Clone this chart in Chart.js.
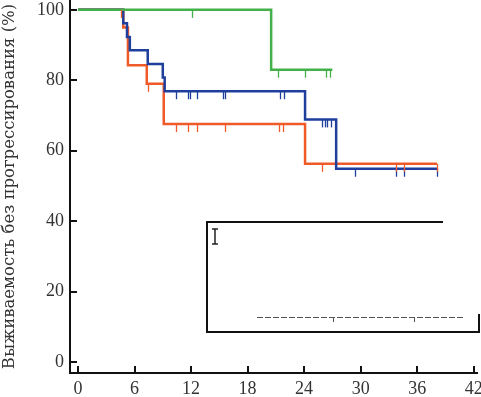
<!DOCTYPE html>
<html><head><meta charset="utf-8">
<script src="https://cdn.jsdelivr.net/npm/chart.js@4/dist/chart.umd.min.js"></script>
<style>html,body{margin:0;padding:0;background:#fff;overflow:hidden}</style>
</head><body>
<canvas id="c" width="481" height="397"></canvas>
<script>
const xTicks = [0, 6, 12, 18, 24, 30, 36, 42];
const yTicks = [0, 20, 40, 60, 80, 100];
const yTitle = 'Выживаемость без прогрессирования (%)';

const greenT = [0, 20.5, 27.0];
const greenS = [100, 83.0, 83.0];
const greenCensT = [12.1, 21.2, 24.1, 26.3, 26.8];
const greenCensS = [100, 83.0, 83.0, 83.0, 83.0];

const blueT = [0, 4.8, 5.2, 5.5, 7.4, 9.0, 9.2, 24.1, 27.4, 38.1];
const blueS = [100, 96.2, 92.3, 88.5, 84.6, 80.8, 76.9, 68.9, 54.9, 54.9];
const blueCensT = [10.4, 11.7, 11.9, 12.6, 15.4, 15.6, 21.4, 21.9, 25.9, 26.2, 26.4, 26.9, 29.4, 33.7, 34.6, 38.1];
const blueCensS = [76.9, 76.9, 76.9, 76.9, 76.9, 76.9, 76.9, 76.9, 68.9, 68.9, 68.9, 68.9, 54.9, 54.9, 54.9, 54.9];

const orangeT = [0, 4.8, 5.3, 7.3, 9.1, 24.1, 38.1];
const orangeS = [100, 95.0, 84.3, 79.0, 67.6, 56.3, 56.3];
const orangeCensT = [4.6, 7.4, 10.4, 11.7, 12.6, 15.6, 21.3, 21.8, 25.9, 33.7, 34.6, 38.1];
const orangeCensS = [100, 79.0, 67.6, 67.6, 67.6, 67.6, 67.6, 67.6, 56.3, 56.3, 56.3, 56.3];

const GREEN = '#43b04a', BLUE = '#1f3f9c', ORANGE = '#f05a28';

function pts(t, s) { return t.map((v, i) => ({x: v, y: s[i]})); }

const ds = (t, s, c, ct, cs) => ({
  data: pts(t, s), borderColor: c, borderWidth: 2.5, stepped: 'before',
  pointRadius: 0, fill: false, censT: ct, censS: cs
});

const extras = {
  id: 'extras',
  afterDatasetsDraw(chart) {
    const ctx = chart.ctx, xs = chart.scales.x, ys = chart.scales.y;
    ctx.save();
    chart.data.datasets.forEach(d => {
      ctx.strokeStyle = d.borderColor; ctx.lineWidth = 1.3;
      d.censT.forEach((t, i) => {
        const px = Math.round(xs.getPixelForValue(t)) + 0.5;
        const py = ys.getPixelForValue(d.censS[i]);
        ctx.beginPath(); ctx.moveTo(px, py); ctx.lineTo(px, py + 8); ctx.stroke();
      });
    });
    ctx.strokeStyle = '#111'; ctx.lineWidth = 2;
    const L = chart.chartArea.left, B = chart.chartArea.bottom;
    yTicks.forEach(v => {
      const py = Math.round(ys.getPixelForValue(v));
      ctx.beginPath(); ctx.moveTo(L, py); ctx.lineTo(L + 7, py); ctx.stroke();
    });
    xTicks.forEach(v => {
      const px = Math.round(xs.getPixelForValue(v));
      ctx.beginPath(); ctx.moveTo(px, B); ctx.lineTo(px, B - 7); ctx.stroke();
    });
    ctx.strokeStyle = '#111'; ctx.lineWidth = 2;
    ctx.beginPath();
    ctx.moveTo(443, 222); ctx.lineTo(207, 222); ctx.lineTo(207, 332); ctx.lineTo(480, 332);
    ctx.moveTo(479, 314); ctx.lineTo(479, 332);
    ctx.stroke();
    ctx.lineWidth = 1; ctx.strokeStyle = '#555';
    ctx.setLineDash([6, 2]);
    ctx.beginPath(); ctx.moveTo(257, 317.5); ctx.lineTo(464, 317.5); ctx.stroke();
    ctx.setLineDash([]);
    ctx.beginPath(); ctx.moveTo(333.5, 317); ctx.lineTo(333.5, 322);
    ctx.moveTo(414.5, 317); ctx.lineTo(414.5, 322); ctx.stroke();
    ctx.lineWidth = 1.5; ctx.strokeStyle = '#222';
    ctx.beginPath(); ctx.moveTo(215, 229); ctx.lineTo(215, 244); ctx.moveTo(212, 229); ctx.lineTo(218, 229);
    ctx.moveTo(212, 244); ctx.lineTo(218, 244); ctx.stroke();
    ctx.restore();
  }
};

new Chart(document.getElementById('c'), {
  type: 'line',
  data: { datasets: [
    ds(greenT, greenS, GREEN, greenCensT, greenCensS),
    ds(blueT, blueS, BLUE, blueCensT, blueCensS),
    ds(orangeT, orangeS, ORANGE, orangeCensT, orangeCensS)
  ]},
  options: {
    responsive: false, animation: false, devicePixelRatio: 1,
    layout: { padding: { top: 0, right: 4, left: 0, bottom: 0 } },
    plugins: { legend: { display: false }, tooltip: { enabled: false } },
    scales: {
      x: {
        type: 'linear', min: -0.85, max: 42.35,
        afterBuildTicks: s => { s.ticks = xTicks.map(v => ({value: v})); },
        afterFit: s => { s.height = 24; s.paddingLeft = 0; s.paddingRight = 0; },
        grid: { display: false, drawTicks: false },
        border: { display: true, color: '#111', width: 2 },
        ticks: { padding: 5, color: '#333', font: { family: 'Liberation Serif', size: 18 } }
      },
      y: {
        type: 'linear', min: -3.1, max: 102.8,
        afterBuildTicks: s => { s.ticks = yTicks.map(v => ({value: v})); },
        afterFit: s => { s.width = 70; s.paddingTop = 0; s.paddingBottom = 0; },
        grid: { display: false, drawTicks: false },
        border: { display: true, color: '#111', width: 2 },
        ticks: { padding: 6, color: '#333', font: { family: 'Liberation Serif', size: 18 } },
        title: { display: true, text: yTitle, color: '#333', padding: { top: 0, bottom: 0 },
                 font: { family: 'DejaVu Serif', size: 16.5 } }
      }
    }
  },
  plugins: [extras]
});
</script>
</body></html>
